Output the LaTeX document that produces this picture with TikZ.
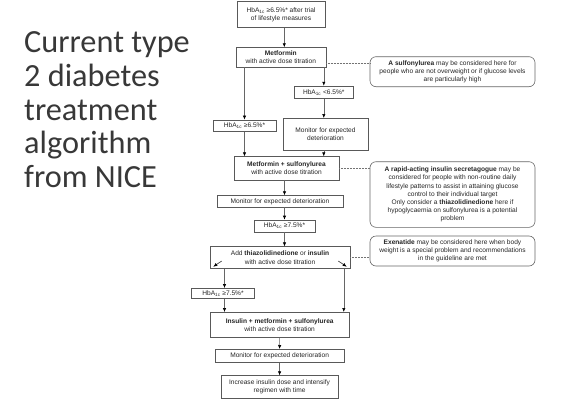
\documentclass[tikz,border=0pt]{standalone}
\usepackage{fontspec}
\setmainfont{Liberation Sans}
\newfontfamily\titlefont{Carlito}
\usetikzlibrary{arrows.meta}
\newcommand{\hba}{HbA\textsubscript{1c}}
\tikzset{
  fbox/.style={draw=black!65, line width=0.6pt, fill=white, align=center, inner sep=0pt,
    text=black!85, font=\fontsize{6.6}{8.2}\selectfont},
  callout/.style={fbox, rounded corners=6pt, draw=black!60},
  arr/.style={draw=black!60, line width=0.6pt, -{Latex[length=4pt,width=3.4pt,fill=black,color=black]}},
  dotline/.style={draw=black!55, line width=0.5pt, densely dotted},
  ttl/.style={anchor=base west, inner sep=0pt, text=black!78, font=\titlefont\fontsize{32.3}{34}\selectfont}
}
\begin{document}
\begin{tikzpicture}[x=1pt,y=-1pt]
\useasboundingbox (0,0) rectangle (568,413);

% title
\node[ttl] (t1) at (24,52.7) {Current type};
\node[ttl] (t2) at (24,86.4) {2 diabetes};
\node[ttl] (t3) at (24,120.1) {treatment};
\node[ttl] (t4) at (24,153.8) {algorithm};
\node[ttl] (t5) at (24,187.6) {from NICE};

% flow boxes
\node[fbox, minimum width=88pt, minimum height=26pt] (b1) at (281,14.7)
  {\hba{} ≥6.5\%* after trial\\of lifestyle measures};
\node[fbox, minimum width=90pt, minimum height=19.5pt] (met) at (280.8,57.3)
  {\textbf{Metformin}\\with active dose titration};
\node[fbox, minimum width=59pt, minimum height=12.3pt] (lt65) at (323.8,92.2)
  {\hba{} <6.5\%*};
\node[fbox, minimum width=85pt, minimum height=31.7pt] (mon1) at (325.5,134.2)
  {Monitor for expected\\deterioration};
\node[fbox, minimum width=63pt, minimum height=11.5pt] (ge65) at (244.5,125.7)
  {\hba{} ≥6.5\%*};
\node[fbox, minimum width=105pt, minimum height=23.3pt] (msu) at (286.5,168.3)
  {\textbf{Metformin + sulfonylurea}\\with active dose titration};
\node[fbox, minimum width=126pt, minimum height=11.5pt] (mon2) at (280,201.3)
  {Monitor for expected deterioration};
\node[fbox, minimum width=61pt, minimum height=12pt] (ge75) at (284.5,226)
  {\hba{} ≥7.5\%*};
\node[fbox, minimum width=140pt, minimum height=22pt] (add) at (280,257.7)
  {Add \textbf{thiazolidinedione} or \textbf{insulin}\\with active dose titration};
\node[fbox, minimum width=62.6pt, minimum height=10.2pt] (ge75b) at (223,293.4)
  {\hba{} ≥7.5\%*};
\node[fbox, minimum width=139.3pt, minimum height=25pt] (ins) at (279.7,324.8)
  {\textbf{Insulin + metformin + sulfonylurea}\\with active dose titration};
\node[fbox, minimum width=129pt, minimum height=13pt] (mon3) at (279.6,355.8)
  {Monitor for expected deterioration};
\node[fbox, minimum width=117.6pt, minimum height=22.6pt] (inc) at (279.6,387)
  {Increase insulin dose and intensify\\regimen with time};

% callouts
\node[callout, minimum width=165pt, minimum height=30pt] (c1) at (452.5,71.7)
  {\textbf{A sulfonylurea} may be considered here for\\people who are not overweight or if glucose levels\\are particularly high};
\node[callout, minimum width=165pt, minimum height=65.6pt] (c2) at (452.5,194.5)
  {\textbf{A rapid-acting insulin secretagogue} may be\\considered for people with non-routine daily\\lifestyle patterns to assist in attaining glucose\\control to their individual target\\Only consider a \textbf{thiazolidinedione} here if\\hypoglycaemia on sulfonylurea is a potential\\problem};
\node[callout, minimum width=165pt, minimum height=30pt] (c3) at (452.5,251)
  {\textbf{Exenatide} may be considered here when body\\weight is a special problem and recommendations\\in the guideline are met};

% arrows
\draw[arr] ([xshift=3.3pt]b1.south) -- ([xshift=3.5pt]met.north);
\draw[arr] (lt65.north |- met.south) -- (lt65.north);
\draw[arr] (ge65.north |- met.south) -- (ge65.north);
\draw[arr] (lt65.south) -- (lt65.south |- mon1.north);
\draw[arr] (lt65.south |- mon1.south) -- (lt65.south |- msu.north);
\draw[arr] (ge65.south) -- (ge65.south |- msu.north);
\draw[arr] (ge75.north |- msu.south) -- (ge75.north |- mon2.north);
\draw[arr] (ge75.north |- mon2.south) -- (ge75.north);
\draw[arr] (ge75.south) -- (ge75.south |- add.north);
\draw[arr] ([xshift=1.5pt]ge75b.north |- add.south) -- ([xshift=1.5pt]ge75b.north);
\draw[arr] ([xshift=1.5pt]ge75b.south) -- ([xshift=1.5pt]ge75b.south |- ins.north);
\draw[arr] ([xshift=-6.5pt]add.south east) -- ([xshift=-6.5pt]add.south east |- ins.north);
\draw[arr] (ins.south) -- (mon3.north);
\draw[arr] (mon3.south) -- (inc.north);

% diagonal arrows inside the add box
\coordinate (dl1) at (221.7,261);
\coordinate (dl2) at (213.3,266.7);
\coordinate (dr1) at (338.3,261);
\coordinate (dr2) at (346.7,266.7);
\draw[arr, draw=black!80] (dl1) -- (dl2);
\draw[arr, draw=black!80] (dr1) -- (dr2);

% dotted links
\draw[dotline] ([yshift=3.7pt]met.south east) -- ([yshift=3.7pt]met.south east -| c1.west);
\draw[dotline] (msu.east) -- (msu.east -| c2.west);
\draw[dotline] (add.east) -- (add.east -| c3.west);
\end{tikzpicture}
\end{document}
